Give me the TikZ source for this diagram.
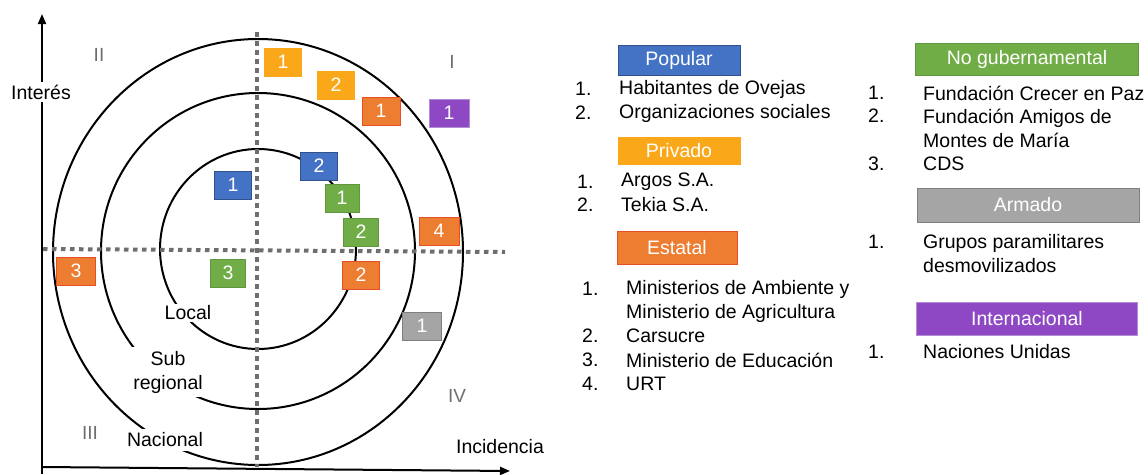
\documentclass[tikz,border=0pt]{standalone}
\usepackage{fontspec}
\setmainfont{Liberation Sans}
\usepackage{tikz}
\usetikzlibrary{arrows.meta, positioning}
\definecolor{popularcolor}{RGB}{68,114,196}
\definecolor{popularedge}{RGB}{47,82,143}
\definecolor{privadocolor}{RGB}{250,168,26}
\definecolor{estatalcolor}{RGB}{237,125,49}
\definecolor{estataledge}{RGB}{232,78,36}
\definecolor{ongcolor}{RGB}{112,173,71}
\definecolor{ongedge}{RGB}{96,150,62}
\definecolor{armadocolor}{RGB}{165,165,165}
\definecolor{armadoedge}{RGB}{127,127,127}
\definecolor{intercolor}{RGB}{143,72,196}
\definecolor{interedge}{RGB}{178,140,215}
\definecolor{quadcolor}{RGB}{110,110,110}

\begin{document}
\begin{tikzpicture}[
    x=1pt, y=-1pt,
    actor/.style={draw, line width=1pt, minimum width=37pt, minimum height=28pt, inner sep=0pt, text=white, font=\fontsize{19.5}{22}\selectfont},
    header/.style={draw, line width=1pt, minimum width=122pt, minimum height=30pt, inner sep=0pt, text=white, font=\fontsize{19.5}{22}\selectfont},
    item/.style={anchor=west, align=left, inner sep=0pt, font=\fontsize{19.5}{24}\selectfont},
    level/.style={fill=white, align=center, inner sep=2pt, font=\fontsize{19.5}{24}\selectfont},
    quadrant/.style={text=quadcolor, font=\fontsize{19}{22}\selectfont},
    axis/.style={line width=2pt, -{Triangle[length=10pt, width=8pt]}},
    guide/.style={line width=4pt, quadcolor, dash pattern=on 4.5pt off 4.5pt}
]
    \useasboundingbox (0,0) rectangle (1148,474);

    % Circles of influence
    \draw[line width=2pt] (258,252) ellipse [x radius=205pt, y radius=213pt];
    \draw[line width=2pt] (258,251) ellipse [x radius=157pt, y radius=158pt];
    \draw[line width=2pt] (258,249) ellipse [x radius=98pt, y radius=100pt];

    % Quadrant guides
    \coordinate (hleft) at (43,249);
    \coordinate (hright) at (505,252);
    \coordinate (vtop) at (257,32);
    \coordinate (vbottom) at (257,467);
    \draw[guide] (hleft) -- (hright);
    \draw[guide] (vtop) -- (vbottom);

    % Axes
    \coordinate (ybottom) at (42,474);
    \coordinate (ytop) at (42,14);
    \coordinate (xleft) at (42,467);
    \coordinate (xright) at (510,471);
    \draw[axis] (ybottom) -- (ytop);
    \draw[axis] (xleft) -- (xright);
    \node[fill=white, inner sep=3pt, font=\fontsize{19.5}{22}\selectfont] (interes) at (41,92) {Interés};
    \node[font=\fontsize{19.5}{22}\selectfont] (incidencia) at (500,447) {Incidencia};

    % Level labels
    \node[level] (local) at (188,313) {Local};
    \node[level, inner sep=4pt] (subregional) at (168,372) {Sub\\regional};
    \node[level, inner sep=4pt] (nacional) at (165,440) {Nacional};

    % Quadrants
    \node[quadrant] (q1) at (452,62) {I};
    \node[quadrant] (q2) at (99,55) {II};
    \node[quadrant] (q3) at (90,433) {III};
    \node[quadrant] (q4) at (457,396) {IV};

    % Actors
    \node[actor, fill=popularcolor, draw=popularedge] (pop1) at (233,185) {1};
    \node[actor, fill=popularcolor, draw=popularedge] (pop2) at (319,166) {2};
    \node[actor, fill=privadocolor, draw=privadocolor] (priv1) at (283,62) {1};
    \node[actor, fill=privadocolor, draw=privadocolor] (priv2) at (336,85) {2};
    \node[actor, fill=estatalcolor, draw=estataledge, minimum width=38pt] (est1) at (381,111) {1};
    \node[actor, fill=estatalcolor, draw=estataledge] (est2) at (361,275) {2};
    \node[actor, fill=estatalcolor, draw=estataledge, minimum width=39pt] (est3) at (76,271) {3};
    \node[actor, fill=estatalcolor, draw=estataledge, minimum width=40pt] (est4) at (439,231) {4};
    \node[actor, fill=ongcolor, draw=ongedge, minimum width=34pt] (ong1) at (342,198) {1};
    \node[actor, fill=ongcolor, draw=ongedge, minimum width=35pt] (ong2) at (361,232) {2};
    \node[actor, fill=ongcolor, draw=ongedge, minimum width=35pt] (ong3) at (228,273) {3};
    \node[actor, fill=armadocolor, draw=armadoedge, minimum width=39pt] (arm1) at (422,326) {1};
    \node[actor, fill=intercolor, draw=interedge, minimum width=40pt] (int1) at (449,113) {1};

    % Legend, first column
    \node[header, fill=popularcolor, draw=popularedge] (popular) at (679,60) {Popular};
    \node[item] (popn1) at (575,89) {1.};
    \node[item] (popt1) at (619,89) {Habitantes de Ovejas};
    \node[item] (popn2) at (575,113) {2.};
    \node[item] (popt2) at (619,113) {Organizaciones sociales};

    \node[header, fill=privadocolor, draw=privadocolor, minimum height=27pt] (privado) at (679,151) {Privado};
    \node[item] (privn1) at (577,182) {1.};
    \node[item] (privt1) at (621,182) {Argos S.A.};
    \node[item] (privn2) at (577,205) {2.};
    \node[item] (privt2) at (621,205) {Tekia S.A.};

    \node[header, fill=estatalcolor, draw=estataledge, minimum width=120pt, minimum height=33pt] (estatal) at (677,248) {Estatal};
    \node[item] (estn1) at (582,289) {1.};
    \node[item] (estt1) at (626,301) {Ministerios de Ambiente y\\Ministerio de Agricultura};
    \node[item] (estn2) at (582,336) {2.};
    \node[item] (estt2) at (626,336) {Carsucre};
    \node[item] (estn3) at (582,360) {3.};
    \node[item] (estt3) at (626,360) {Ministerio de Educación};
    \node[item] (estn4) at (582,384) {4.};
    \node[item] (estt4) at (626,384) {URT};

    % Legend, second column
    \node[header, fill=ongcolor, draw=ongedge, minimum width=223pt, minimum height=32pt] (ong) at (1027,59) {No gubernamental};
    \node[item] (ongn1) at (868,93) {1.};
    \node[item] (ongt1) at (923,93) {Fundación Crecer en Paz};
    \node[item] (ongn2) at (868,116) {2.};
    \node[item] (ongt2) at (923,128) {Fundación Amigos de\\Montes de María};
    \node[item] (ongn3) at (868,164) {3.};
    \node[item] (ongt3) at (923,164) {CDS};

    \node[header, fill=armadocolor, draw=armadoedge, minimum width=222pt, minimum height=34pt] (armado) at (1028,205) {Armado};
    \node[item] (armn1) at (868,242) {1.};
    \node[item] (armt1) at (923,254) {Grupos paramilitares\\desmovilizados};

    \node[header, fill=intercolor, draw=interedge, minimum width=221pt, minimum height=33pt] (internacional) at (1027,319) {Internacional};
    \node[item] (intn1) at (868,352) {1.};
    \node[item] (intt1) at (923,352) {Naciones Unidas};
\end{tikzpicture}
\end{document}
